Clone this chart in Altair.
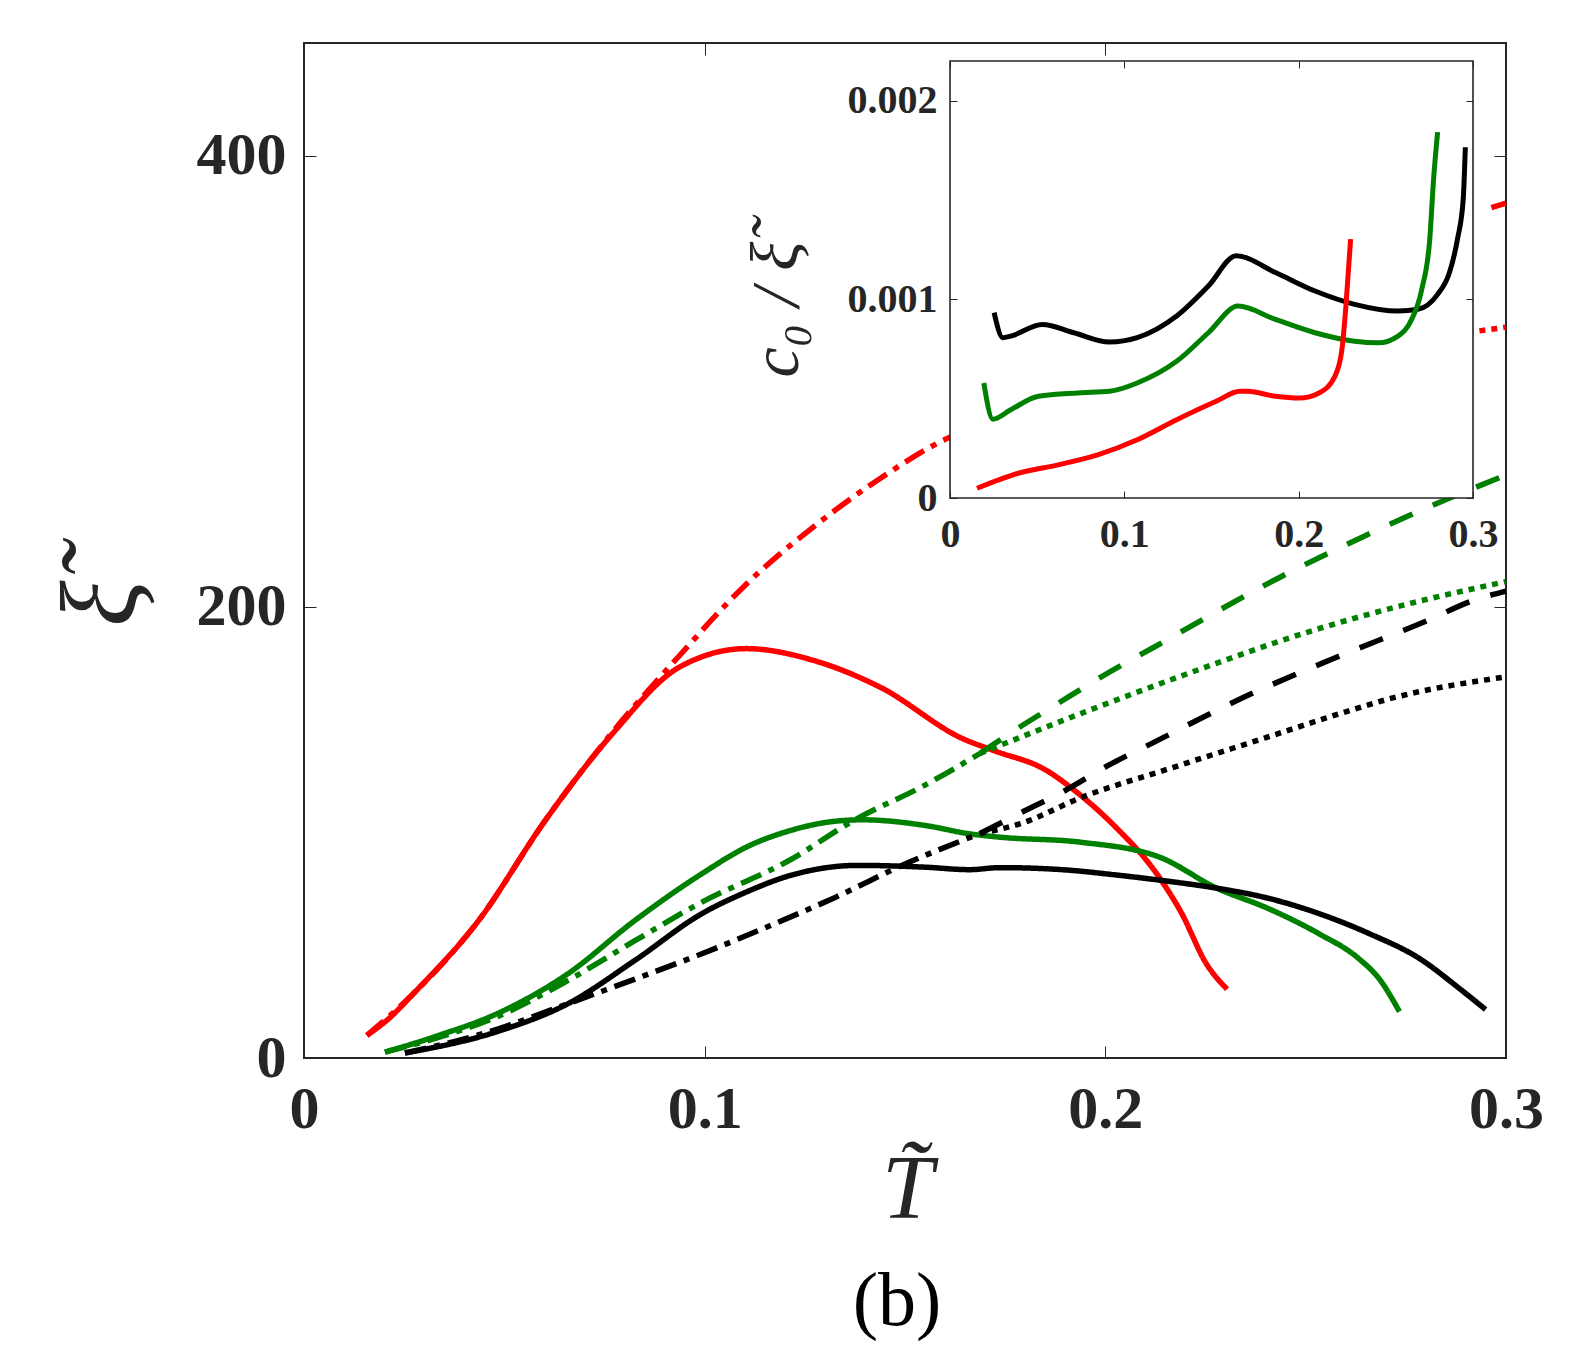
import altair as alt
import pandas as pd

# ---------------- main panel data (T~, xi~) ----------------
red_sim_T = [0.0157, 0.0215, 0.0269, 0.0436, 0.0602, 0.077, 0.0937, 0.1104, 0.1271, 0.1438,
             0.1645, 0.172, 0.1853, 0.1924, 0.2025, 0.2127, 0.219, 0.2252, 0.2304]
red_sim_xi = [10, 18, 27.8, 61, 105.3, 143.8, 173.3, 181.5, 176.3, 164.4,
              141.5, 136.4, 127.5, 118.5, 102.5, 82, 64.3, 41.8, 30.5]
red_dd_T = [0.0157, 0.0269, 0.0436, 0.0602, 0.077, 0.093, 0.1105, 0.1271, 0.1437, 0.1604, 0.167]
red_dd_xi = [10, 27.8, 61, 105.3, 144.5, 177, 210.3, 235.4, 256.8, 274.6, 279.5]
red_dash_T = [0.167, 0.2, 0.25, 0.3]
red_dash_xi = [279.5, 310, 349, 379]
red_dot_T = [0.167, 0.2, 0.25, 0.3]
red_dot_xi = [279.5, 295, 311, 324]

green_sim_T = [0.0202, 0.0324, 0.0491, 0.0659, 0.0826, 0.0993, 0.1104, 0.1215, 0.1327, 0.1394,
               0.155, 0.1661, 0.1737, 0.1937, 0.2136, 0.2278, 0.2405, 0.2532, 0.2633, 0.2684, 0.2734]
green_sim_xi = [2.6, 9.3, 20.4, 37.4, 61, 81.7, 93.5, 100.9, 105, 105.6,
                103.1, 99.4, 97.9, 95.7, 89, 75.3, 66.4, 55.2, 44, 35, 20.6]
green_dd_T = [0.0202, 0.0324, 0.0491, 0.0659, 0.0826, 0.0993, 0.1215, 0.1372, 0.155, 0.1687]
green_dd_xi = [2.6, 8.5, 19, 34.4, 52, 69.1, 88, 105.3, 121, 135]
green_dash_T = [0.1687, 0.178, 0.188, 0.199, 0.212, 0.243, 0.265, 0.277, 0.3]
green_dash_xi = [135, 146, 157, 169, 182, 212.6, 231.7, 241.4, 258.5]
green_dot_T = [0.1687, 0.194, 0.2179, 0.2543, 0.276, 0.3]
green_dot_xi = [135, 152.8, 168.7, 190.9, 201.5, 211.2]

black_sim_T = [0.0252, 0.0491, 0.0659, 0.0826, 0.0993, 0.1104, 0.1215, 0.1383, 0.155, 0.1661,
               0.1737, 0.19, 0.2024, 0.2151, 0.2278, 0.2405, 0.2532, 0.2658, 0.2785, 0.2886, 0.2949]
black_sim_xi = [2.2, 12.2, 24.1, 43.3, 64, 73.6, 81, 85.4, 84.6, 83.5,
                84.4, 83.4, 81.2, 78.5, 75.3, 70.9, 64.1, 55.2, 44, 30.5, 21.5]
black_dd_T = [0.0252, 0.045, 0.0659, 0.0826, 0.0993, 0.1161, 0.1327, 0.15, 0.1687]
black_dd_xi = [2.2, 11, 24.1, 35, 46.2, 58.5, 71.3, 86, 99.5]
black_dash_T = [0.1687, 0.179, 0.19, 0.2007, 0.2116, 0.2344, 0.2568, 0.2803, 0.2918, 0.3]
black_dash_xi = [99.5, 108.8, 118.6, 129.7, 139.5, 159.8, 177, 193.9, 202.8, 207]
black_dot_T = [0.1687, 0.179, 0.194, 0.216, 0.24, 0.26, 0.271, 0.3]
black_dot_xi = [99.5, 104, 115.5, 128.3, 142, 153.5, 159.3, 169]

# ---------------- inset data (T~, c0/xi~) ----------------
in_black_T = [0.0253, 0.0303, 0.0348, 0.053, 0.0711, 0.0915, 0.1074, 0.130, 0.1482, 0.1641,
              0.1867, 0.2094, 0.2321, 0.257, 0.2684, 0.2797, 0.2865, 0.2911, 0.2944, 0.2956]
in_black_v = [0.000933, 0.000807, 0.000815, 0.000874, 0.000832, 0.000785, 0.000807, 0.000916, 0.001067, 0.001219,
              0.001135, 0.001042, 0.000975, 0.000941, 0.00095, 0.001025, 0.001135, 0.001303, 0.001505, 0.001766]
in_green_T = [0.0194, 0.0246, 0.0348, 0.0507, 0.0734, 0.0915, 0.1074, 0.130, 0.1482, 0.1652,
              0.1867, 0.2094, 0.2321, 0.2457, 0.257, 0.2638, 0.2706, 0.2752, 0.2774, 0.2797]
in_green_v = [0.000579, 0.000397, 0.000444, 0.000512, 0.000529, 0.000537, 0.000579, 0.000688, 0.000832, 0.000966,
              0.000899, 0.000832, 0.000789, 0.000781, 0.000815, 0.000882, 0.00105, 0.001303, 0.001606, 0.001842]
in_red_T = [0.0155, 0.0394, 0.062, 0.0847, 0.1074, 0.130, 0.1527, 0.1663, 0.1708, 0.1867,
            0.2003, 0.2117, 0.2208, 0.2248, 0.2271, 0.2298]
in_red_v = [0.000049, 0.000125, 0.000167, 0.000217, 0.000293, 0.000394, 0.000487, 0.000537, 0.000537, 0.000512,
            0.000503, 0.000529, 0.000613, 0.000747, 0.000966, 0.001303]

x_ticks = [0, 0.1, 0.2, 0.3]
y_ticks = [0, 200, 400]
in_y_ticks = [0, 0.001, 0.002]

RED, GREEN, BLACK = "#ff0000", "#008000", "#000000"

# ---------------- layout ----------------
W, H = 1202, 1015
PAD = {"left": 304, "top": 43, "right": 84, "bottom": 305}
IN_X_RANGE = [646, 1169]
IN_Y_RANGE = [455, 18]
TK, ITK = 12, 7
AXC = "#262626"
SERIF = "Liberation Serif"

rows = []
def add(series, color, style, ts, vs):
    for t, v in zip(ts, vs):
        rows.append({"series": series, "color": color, "style": style, "T": t, "v": v})

add("r_sim", RED, "solid", red_sim_T, red_sim_xi)
add("r_dd", RED, "dashdot", red_dd_T, red_dd_xi)
add("r_dash", RED, "dash", red_dash_T, red_dash_xi)
add("r_dot", RED, "dot", red_dot_T, red_dot_xi)
add("g_sim", GREEN, "solid", green_sim_T, green_sim_xi)
add("g_dd", GREEN, "dashdot", green_dd_T, green_dd_xi)
add("g_dash", GREEN, "dash", green_dash_T, green_dash_xi)
add("g_dot", GREEN, "dot", green_dot_T, green_dot_xi)
add("k_sim", BLACK, "solid", black_sim_T, black_sim_xi)
add("k_dd", BLACK, "dashdot", black_dd_T, black_dd_xi)
add("k_dash", BLACK, "dash", black_dash_T, black_dash_xi)
add("k_dot", BLACK, "dot", black_dot_T, black_dot_xi)
main_df = pd.DataFrame(rows)

rows = []
add("ik", BLACK, "solid", in_black_T, in_black_v)
add("ig", GREEN, "solid", in_green_T, in_green_v)
add("ir", RED, "solid", in_red_T, in_red_v)
inset_df = pd.DataFrame(rows)

box_df = pd.DataFrame({"x0": [0.0], "x1": [0.3], "y0": [0.0], "y1": [0.0022]})

dash_scale = alt.Scale(domain=["solid", "dash", "dot", "dashdot"],
                       range=[[1, 0], [25, 22], [6, 6], [22, 8, 6, 8]])

xs_main = alt.Scale(domain=[0, 0.3], nice=False, zero=False)
ys_main = alt.Scale(domain=[0, 450], nice=False)
xs_in = alt.Scale(domain=[0, 0.3], range=IN_X_RANGE, nice=False, zero=False)
ys_in = alt.Scale(domain=[0, 0.0022], range=IN_Y_RANGE, nice=False)

lab = dict(labelFont=SERIF, labelFontWeight="bold", labelColor=AXC, tickColor=AXC,
           domain=False, grid=False, format="~r", labelFlush=False, labelOverlap=False)

main_lines = alt.Chart(main_df).mark_line(strokeWidth=5.5, strokeCap="butt", interpolate="monotone").encode(
    x=alt.X("T:Q", scale=xs_main, axis=alt.Axis(
        orient="bottom", values=x_ticks, tickSize=TK, offset=-TK, labelFontSize=60,
        labelPadding=22, title="T̃", titleFont=SERIF, titleFontStyle="italic",
        titleFontWeight="normal", titleFontSize=92, titleColor=AXC,
        titleBaseline="alphabetic", titleY=171, titleX=603, **lab)),
    y=alt.Y("v:Q", scale=ys_main, axis=alt.Axis(
        orient="left", values=y_ticks, tickSize=TK, offset=-TK, labelFontSize=60,
        labelPadding=18, title="ξ̃", titleFont=SERIF, titleFontStyle="italic",
        titleFontWeight="normal", titleFontSize=108, titleColor=AXC, titleAngle=270,
        titleBaseline="alphabetic", titleX=-182, titleY=560, **lab)),
    color=alt.Color("color:N", scale=None),
    strokeDash=alt.StrokeDash("style:N", scale=dash_scale, legend=None),
    detail="series:N",
)

main_box = alt.Chart(main_df).mark_point(opacity=0).encode(
    x=alt.X("T:Q", scale=xs_main, axis=alt.Axis(
        orient="top", values=x_ticks, tickSize=TK, offset=-TK, labels=False, title=None,
        domain=False, grid=False, tickColor=AXC)),
    y=alt.Y("v:Q", scale=ys_main, axis=alt.Axis(
        orient="right", values=y_ticks, tickSize=TK, offset=-TK, labels=False, title=None,
        domain=False, grid=False, tickColor=AXC)),
)

inset_bg = alt.Chart(box_df).mark_rect(fill="white", stroke=AXC, strokeWidth=1.6).encode(
    x=alt.X("x0:Q", scale=xs_in, axis=None),
    x2="x1:Q",
    y=alt.Y("y0:Q", scale=ys_in, axis=None),
    y2="y1:Q",
)

inset_lines = alt.Chart(inset_df).mark_line(strokeWidth=5, interpolate="monotone").encode(
    x=alt.X("T:Q", scale=xs_in, axis=alt.Axis(
        orient="bottom", values=x_ticks, tickSize=ITK, offset=(IN_Y_RANGE[0] - ITK) - H,
        labelFontSize=40, labelPadding=16, title=None, zindex=2, **lab)),
    y=alt.Y("v:Q", scale=ys_in, axis=alt.Axis(
        orient="left", values=in_y_ticks, tickSize=ITK, offset=-(IN_X_RANGE[0] + ITK),
        labelFontSize=40, labelPadding=13, title="c₀ / ξ̃", titleFont=SERIF,
        titleFontStyle="italic", titleFontWeight="normal", titleFontSize=68, titleColor=AXC,
        titleAngle=270, titleBaseline="alphabetic", titleX=-160, titleY=266, zindex=2, **lab)),
    color=alt.Color("color:N", scale=None),
    detail="series:N",
)

inset_box = alt.Chart(inset_df).mark_point(opacity=0).encode(
    x=alt.X("T:Q", scale=xs_in, axis=alt.Axis(
        orient="top", values=x_ticks, tickSize=ITK, offset=-(IN_Y_RANGE[1] + ITK), labels=False,
        title=None, domain=False, grid=False, tickColor=AXC, zindex=2)),
    y=alt.Y("v:Q", scale=ys_in, axis=alt.Axis(
        orient="right", values=in_y_ticks, tickSize=ITK, offset=(IN_X_RANGE[1] - ITK) - W,
        labels=False, title=None, domain=False, grid=False, tickColor=AXC, zindex=2)),
)

chart = alt.layer(main_lines, main_box, inset_bg, inset_lines, inset_box).resolve_scale(
    x="independent", y="independent"
).resolve_axis(
    x="independent", y="independent"
).properties(
    width=W, height=H,
    padding=PAD,
    autosize=alt.AutoSizeParams(type="none"),
    background="white",
    title=alt.TitleParams("(b)", orient="bottom", font=SERIF, fontSize=76,
                          fontWeight="normal", color="#000000", offset=30, anchor="middle", dx=-8),
).configure_view(stroke=AXC, strokeWidth=2)

chart.save("out.html", embed_options={"renderer": "svg", "actions": False})
